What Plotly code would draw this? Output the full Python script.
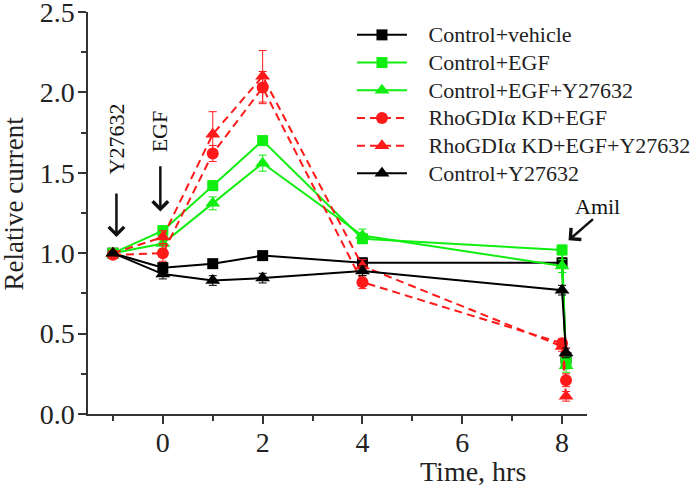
import plotly.graph_objects as go

time = [-1, 0, 1, 2, 4, 8, 8.08]
ctrl_vehicle = [1.00, 0.91, 0.935, 0.985, 0.94, 0.94, 0.35]
ctrl_egf = [1.00, 1.14, 1.42, 1.70, 1.09, 1.02, 0.32]
ctrl_egf_y = [1.00, 1.06, 1.31, 1.56, 1.11, 0.92, 0.30]
kd_egf = [0.99, 1.00, 1.62, 2.03, 0.82, 0.44, 0.21]
kd_egf_y = [1.00, 1.10, 1.74, 2.10, 0.92, 0.42, 0.11]
ctrl_y = [1.00, 0.87, 0.83, 0.845, 0.89, 0.77, 0.38]

err_vehicle = [0.01, 0.03, 0.02, 0.02, 0.03, 0.03, 0.03]
err_egf = [0.01, 0.03, 0.03, 0.03, 0.03, 0.03, 0.04]
err_egf_y = [0.01, 0.03, 0.04, 0.05, 0.04, 0.04, 0.04]
err_kd = [0.01, 0.05, 0.05, 0.10, 0.04, 0.03, 0.04]
err_kd_y = [0.01, 0.04, 0.14, 0.16, 0.04, 0.03, 0.03]
err_ctrl_y = [0.01, 0.03, 0.03, 0.03, 0.03, 0.03, 0.03]

names = ["Control+vehicle", "Control+EGF", "Control+EGF+Y27632",
         "RhoGDIα KD+EGF", "RhoGDIα KD+EGF+Y27632", "Control+Y27632"]

x_ticks = [0, 2, 4, 6, 8]
x_minor = [-1, 1, 3, 5, 7]
y_ticks = [0, 0.5, 1.0, 1.5, 2.0, 2.5]
y_ticktext = ["0.0", "0.5", "1.0", "1.5", "2.0", "2.5"]
y_minor = [0.25, 0.75, 1.25, 1.75, 2.25]

BLACK = "#000000"
GREEN = "#11ee11"
RED = "#ff1a1a"
FONT = "Liberation Serif"

series = [
    (ctrl_vehicle, err_vehicle, BLACK, "square", "solid", 11),
    (ctrl_egf, err_egf, GREEN, "square", "solid", 11),
    (ctrl_egf_y, err_egf_y, GREEN, "triangle-up", "solid", 13),
    (kd_egf, err_kd, RED, "circle", "8px,5px", 12),
    (kd_egf_y, err_kd_y, RED, "triangle-up", "8px,5px", 13),
    (ctrl_y, err_ctrl_y, BLACK, "triangle-up", "solid", 13),
]

fig = go.Figure()
for name, (vals, errs, col, sym, dash, size) in zip(names, series):
    fig.add_trace(go.Scatter(
        x=time, y=vals, mode="lines+markers",
        name='<span style="font-size:22px">\u00a0\u00a0\u00a0' + name + '</span>',
        line=dict(color=col, width=2, dash=dash),
        marker=dict(color=col, symbol=sym, size=size),
        error_y=dict(type="data", array=errs, visible=True, color=col,
                     thickness=1, width=4),
    ))

axis_common = dict(
    showline=True, linecolor="#333333", linewidth=1.5, mirror=False,
    showgrid=False, zeroline=False, ticks="outside", ticklen=8,
    tickwidth=1.5, tickcolor="#333333", automargin=False,
    ticklabeloverflow="allow",
    tickfont=dict(family=FONT, size=28, color="#222222"),
)

fig.update_xaxes(range=[-1.5, 8.5], tickvals=x_ticks, ticklabelstandoff=-5,
                 minor=dict(tickvals=x_minor, ticklen=5,
                            tickwidth=1.5, tickcolor="#333333", ticks="outside"),
                 **axis_common)
fig.update_yaxes(range=[0, 2.5], tickvals=y_ticks, ticktext=y_ticktext,
                 ticklabelstandoff=-2,
                 minor=dict(tickvals=y_minor, ticklen=5,
                            tickwidth=1.5, tickcolor="#333333", ticks="outside"),
                 **axis_common)

ann = []
# axis titles
ann.append(dict(text="Relative current", xref="paper", yref="paper",
                x=-0.148, y=0.524, textangle=-90, showarrow=False,
                font=dict(family=FONT, size=27, color="#222222"),
                xanchor="center", yanchor="middle"))
ann.append(dict(text="Time, hrs", xref="paper", yref="paper",
                x=0.772, y=-0.142, showarrow=False,
                font=dict(family=FONT, size=28, color="#222222"),
                xanchor="center", yanchor="middle"))
# treatment labels
ann.append(dict(text="Y27632", xref="x", yref="y", x=-0.93, y=1.71,
                textangle=-90, showarrow=False,
                font=dict(family=FONT, size=22, color="#111111")))
ann.append(dict(text="EGF", xref="x", yref="y", x=-0.05, y=1.76,
                textangle=-90, showarrow=False,
                font=dict(family=FONT, size=22, color="#111111")))
ann.append(dict(text="Amil", xref="paper", yref="paper", x=1.070, y=0.517,
                showarrow=False,
                font=dict(family=FONT, size=22, color="#111111")))
# arrows
for (tx, ty, sx, sy) in [(-0.93, 1.10, -0.93, 1.38),
                         (-0.05, 1.26, -0.05, 1.55),
                         (8.13, 1.08, 8.65, 1.22)]:
    ann.append(dict(text="", xref="x", yref="y", x=tx, y=ty,
                    axref="x", ayref="y", ax=sx, ay=sy,
                    showarrow=True, arrowhead=4, arrowsize=1.2,
                    arrowwidth=2.5, arrowcolor="#111111"))

fig.update_layout(
    width=693, height=485,
    margin=dict(l=88, r=106, t=12, b=71, autoexpand=False),
    plot_bgcolor="white", paper_bgcolor="white",
    annotations=ann,
    legend=dict(x=0.529, y=0.99, xanchor="left", yanchor="top",
                bgcolor="rgba(0,0,0,0)", itemwidth=50,
                font=dict(family=FONT, size=19, color="#222222"),
                tracegroupgap=0),
    font=dict(family=FONT),
)

fig.write_html("out.html",
               config={"displayModeBar": False},
               post_script="document.body.style.margin='0';"
                           "document.body.style.overflow='hidden';")
